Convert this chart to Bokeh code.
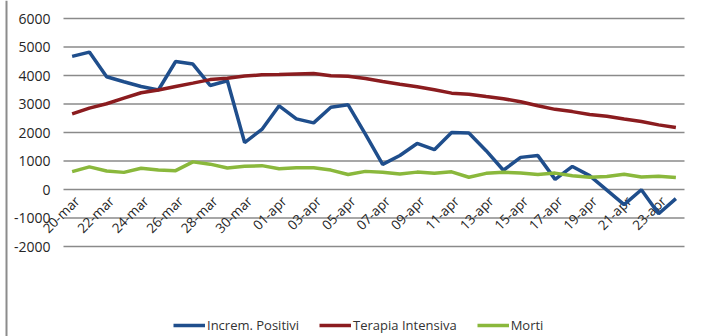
import numpy as np
from bokeh.plotting import figure
from bokeh.models import ColumnDataSource, Legend, LegendItem
from bokeh.core.properties import value
from bokeh.embed import file_html
from bokeh.resources import INLINE

dates = ["20-mar", "21-mar", "22-mar", "23-mar", "24-mar", "25-mar", "26-mar", "27-mar",
         "28-mar", "29-mar", "30-mar", "31-mar", "01-apr", "02-apr", "03-apr", "04-apr",
         "05-apr", "06-apr", "07-apr", "08-apr", "09-apr", "10-apr", "11-apr", "12-apr",
         "13-apr", "14-apr", "15-apr", "16-apr", "17-apr", "18-apr", "19-apr", "20-apr",
         "21-apr", "22-apr", "23-apr", "24-apr"]

increm_positivi = [4670, 4821, 3957, 3780, 3612, 3491, 4492, 4401, 3651, 3815, 1648, 2107,
                   2937, 2477, 2339, 2886, 2972, 1941, 880, 1195, 1615, 1396, 1996, 1984,
                   1363, 675, 1127, 1189, 355, 809, 486, -20, -528, -10, -851, -321]

terapia_intensiva = [2655, 2857, 3009, 3204, 3396, 3489, 3612, 3732, 3856, 3906, 3981, 4023,
                     4035, 4053, 4068, 3994, 3977, 3898, 3792, 3693, 3605, 3497, 3381, 3343,
                     3260, 3186, 3079, 2936, 2812, 2733, 2635, 2573, 2471, 2384, 2267, 2173]

morti = [627, 793, 651, 601, 743, 683, 662, 969, 889, 756, 812, 837,
         727, 760, 766, 681, 525, 636, 604, 542, 610, 570, 619, 431,
         566, 602, 578, 525, 575, 482, 433, 454, 534, 437, 464, 420]

y_ticks = [-2000, -1000, 0, 1000, 2000, 3000, 4000, 5000, 6000]

# ---- layout (pixels of the 702x336 page) ----
W, H = 702, 336
PL, PR, PT, PB = 63, 684, 18, 246          # plot area edges
n = len(dates)
x_lo, x_hi = -0.5, n - 0.5
y_lo, y_hi = y_ticks[0], y_ticks[-1]
xs = (PR - PL) / (x_hi - x_lo)
ys = (PB - PT) / (y_hi - y_lo)
xr = (x_lo - PL / xs, x_hi + (W - PR) / xs)
yr = (y_lo - (H - PB) / ys, y_hi + PT / ys)

idx = list(range(n))
src = ColumnDataSource(dict(x=idx, pos=increm_positivi, ti=terapia_intensiva, morti=morti))
lab_idx = idx[::2]
lab_src = ColumnDataSource(dict(x=lab_idx, y=[0] * len(lab_idx), t=dates[::2]))
tick_src = ColumnDataSource(dict(y=y_ticks, t=[str(v) for v in y_ticks],
                                 x0=[x_lo] * len(y_ticks), x1=[x_hi] * len(y_ticks)))

p = figure(width=W, height=H, output_backend="svg", toolbar_location=None,
           x_range=xr, y_range=yr, x_axis_location=None, y_axis_location=None,
           min_border=0)
p.outline_line_color = None
p.background_fill_color = "white"
p.border_fill_color = "white"
p.grid.visible = False

# gridlines
p.segment(x0="x0", x1="x1", y0="y", y1="y", source=tick_src,
          line_color="#8a8a8a", line_width=1.6)
# y tick labels
p.text(x="x0", y="y", text="t", source=tick_src, x_offset=-13,
       text_align="right", text_baseline="middle",
       text_font=value("Open Sans"), text_font_size="14px", text_color="#262626")
# category labels (sit below the zero line, rotated)
p.text(x="x", y="y", text="t", source=lab_src, angle=np.pi / 4,
       text_align="right", text_baseline="middle", x_offset=5, y_offset=9,
       text_font=value("Open Sans"), text_font_size="13.5px", text_color="#262626")

# frame border on the left
p.segment(x0=[xr[0] + 6 / xs], x1=[xr[0] + 6 / xs], y0=[yr[0]], y1=[yr[1]],
          line_color="#8c8c8c", line_width=2)

r_pos = p.line("x", "pos", source=src, line_color="#1f4e8c", line_width=3.5)
r_ti = p.line("x", "ti", source=src, line_color="#8b1c1f", line_width=3.5)
r_mo = p.line("x", "morti", source=src, line_color="#8ab83c", line_width=3.5)

legend = Legend(items=[LegendItem(label="Increm. Positivi", renderers=[r_pos]),
                       LegendItem(label="Terapia Intensiva", renderers=[r_ti]),
                       LegendItem(label="Morti", renderers=[r_mo])],
                orientation="horizontal", location=(173, 2),
                padding=0, margin=0, spacing=20, glyph_width=32, glyph_height=18,
                label_standoff=2, label_text_font="Open Sans", label_text_font_size="13px",
                label_text_color="#333333", border_line_color=None,
                background_fill_alpha=0)
p.add_layout(legend)

open("out.html", "w").write(file_html(p, INLINE))
